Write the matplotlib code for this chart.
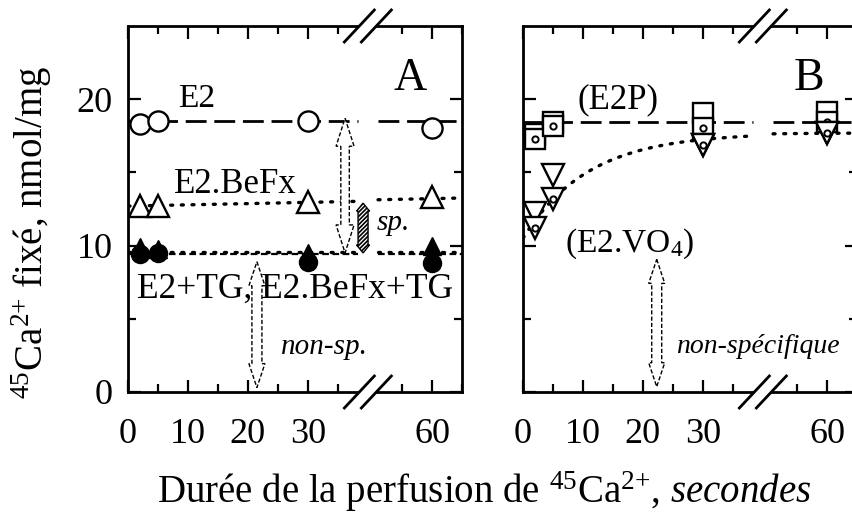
import numpy as np
import matplotlib
matplotlib.use('Agg')
import matplotlib.pyplot as plt
from matplotlib.patches import Polygon
from matplotlib.lines import Line2D

plt.rcParams['font.family'] = ['Liberation Serif', 'DejaVu Serif']
plt.rcParams['mathtext.fontset'] = 'custom'
plt.rcParams['mathtext.rm'] = 'Liberation Serif'
plt.rcParams['mathtext.it'] = 'Liberation Serif:italic'
plt.rcParams['hatch.linewidth'] = 1.2

# ---------------- data ----------------
time_s = [2, 5, 30, 60]
xtick_major = [0, 10, 20, 30, 60]
xtick_minor = [5, 15, 25, 35, 55, 65]
ytick_major = [0, 10, 20]
ytick_minor = [5, 15]

# panel A
a_e2 = [18.3, 18.5, 18.5, 18.0]          # open circles
a_befx = [12.7, 12.7, 13.0, 13.3]        # open triangles
a_e2_tg = [9.4, 9.5, 8.9, 8.8]           # filled circles
a_befx_tg = [9.9, 9.8, 9.5, 10.0]        # filled triangles
a_e2_level = 18.5
a_befx_line = [12.7, 13.25]              # at x = 0 and x = 65
a_tg_dash_level = 9.4
a_tg_dot_level = 9.55

# panel B
b_e2p_open = [17.6, 18.45, 19.05, 19.1]
b_e2p_dot = [17.3, 18.15, 18.05, 18.45]
b_vo4_open = [12.2, 14.8, 16.9, 17.7]
b_vo4_dot = [11.2, 13.2, 16.9, 17.7]
b_e2p_level = 18.45
b_fit_plateau = 17.7
b_fit_initial = 10.5
b_fit_rate = 0.092

# ---------------- broken x scale ----------------
BRK_LO, BRK_HI = 40.0, 49.3
GAP = BRK_HI - BRK_LO


def fwd(x):
    x = np.asarray(x, dtype=float)
    return np.where(x <= BRK_LO, x, np.where(x >= BRK_HI, x - GAP, BRK_LO))


def inv(y):
    y = np.asarray(y, dtype=float)
    return np.where(y <= BRK_LO, y, y + GAP)


SEG1 = (0.0, 38.4)
SEG2 = (51.0, 65.0)

fig = plt.figure(figsize=(8.52, 5.13), dpi=100)
W, H = 852.0, 513.0
bot = (H - 392) / H
hgt = 366 / H
axA = fig.add_axes([128 / W, bot, 334 / W, hgt])
axB = fig.add_axes([523 / W, bot, 334 / W, hgt])

TICK_FS = 26
for ax in (axA, axB):
    ax.set_xscale('function', functions=(fwd, inv))
    ax.set_xlim(0, 65)
    ax.set_ylim(0, 25)
    ax.set_xticks(xtick_major)
    ax.set_xticklabels([str(v) for v in xtick_major])
    ax.set_xticks(xtick_minor, minor=True)
    ax.set_yticks(ytick_major)
    ax.set_yticks(ytick_minor, minor=True)
    ax.tick_params(which='both', direction='in', top=True, right=True,
                   width=1.6, labelsize=TICK_FS)
    ax.tick_params(which='major', length=9)
    ax.tick_params(which='minor', length=6)
    ax.tick_params(axis='x', which='major', pad=18.5)
    ax.tick_params(axis='y', which='major', pad=11)
    for sp in ax.spines.values():
        sp.set_linewidth(2)
axB.tick_params(labelleft=False)


def seg_x(n=2):
    return [np.linspace(SEG1[0], SEG1[1], n), np.linspace(SEG2[0], SEG2[1], n)]


def hline(ax, level, **kw):
    for xs in seg_x():
        ax.plot(xs, [level] * len(xs), **kw)


def sloped(ax, vals, **kw):
    for xs in seg_x():
        ax.plot(xs, np.interp(xs, [0, 65], vals), **kw)


DASH = dict(color='black', lw=2, dashes=(7.5, 2.8), zorder=2)
DOT = dict(color='black', lw=2.4, dashes=(0.6, 2.6), dash_capstyle='round', zorder=2)
SHORTDASH = dict(color='black', lw=1.6, dashes=(3, 1.6), zorder=2)

# ---------- panel A ----------
hline(axA, a_e2_level, **DASH)
sloped(axA, a_befx_line, **DOT)
hline(axA, a_tg_dash_level, **SHORTDASH)
hline(axA, a_tg_dot_level, **DOT)

axA.plot(time_s, a_e2, 'o', ms=14.5, mfc='white', mec='black', mew=1.7, zorder=4)
axA.plot(time_s, a_befx, '^', ms=16, mfc='white', mec='black', mew=1.7, zorder=4)
axA.plot(time_s, a_befx_tg, '^', ms=13, color='black', zorder=4)
axA.plot(time_s, a_e2_tg, 'o', ms=13, color='black', zorder=4)

# ---------- panel B ----------
hline(axB, b_e2p_level, **DASH)
for xs in [np.linspace(SEG1[0], SEG1[1], 200), np.linspace(SEG2[0], SEG2[1], 50)]:
    axB.plot(xs, b_fit_plateau - (b_fit_plateau - b_fit_initial) * np.exp(-b_fit_rate * xs), **DOT)

axB.plot(time_s, b_e2p_open, 's', ms=14, mfc='white', mec='black', mew=1.7, zorder=4)
axB.plot(time_s, b_e2p_dot, 's', ms=14, mfc='white', mec='black', mew=1.7, zorder=5)
axB.plot(time_s, b_e2p_dot, 'o', ms=4.5, mfc='none', mec='black', mew=1.4, zorder=5)
axB.plot(time_s, b_vo4_open, 'v', ms=16, mfc='white', mec='black', mew=1.7, zorder=6)
axB.plot(time_s, b_vo4_dot, 'v', ms=16, mfc='white', mec='black', mew=1.7, zorder=7)
axB.plot(time_s, b_vo4_dot, 'o', ms=4.5, mfc='none', mec='black', mew=1.4, zorder=7)


# ---------- helpers: arrows & break marks ----------
def double_arrow(ax, x, y0, y1, shaft, headw, headl, **kw):
    T = ax.transData
    xd, yb = T.transform((x, y0))
    _, yt = T.transform((x, y1))
    s, h = shaft / 2, headw / 2
    pts = [(xd, yt), (xd + h, yt - headl), (xd + s, yt - headl), (xd + s, yb + headl),
           (xd + h, yb + headl), (xd, yb), (xd - h, yb + headl), (xd - s, yb + headl),
           (xd - s, yt - headl), (xd - h, yt - headl)]
    ax.add_patch(Polygon(T.inverted().transform(pts), closed=True, **kw))


ARW = dict(facecolor='white', edgecolor='black', lw=1.0, linestyle=(0, (3, 1.5)), zorder=3)
double_arrow(axA, 36.2, 9.5, 18.7, 8.5, 18, 28, **ARW)
double_arrow(axA, 21.5, 0.3, 8.9, 10, 16, 24, **ARW)
double_arrow(axB, 22.3, 0.36, 9.06, 10, 16, 24, **ARW)
double_arrow(axA, 39.2, 9.5, 12.9, 10, 13, 8, facecolor='white', edgecolor='black',
             lw=1.0, hatch='////////', zorder=3)


def break_marks(ax):
    T = ax.transData
    inv_t = T.inverted()
    xb = T.transform((BRK_LO, 0))[0]
    for yax in (0, 1):
        yd = ax.transAxes.transform((0, yax))[1]
        k = 15 / 16
        gap = [(xb - 8.5 - 4 * k, yd - 4), (xb + 8.5 - 4 * k, yd - 4),
               (xb + 8.5 + 4 * k, yd + 4), (xb - 8.5 + 4 * k, yd + 4)]
        ax.add_patch(Polygon(inv_t.transform(gap), closed=True, facecolor='white',
                             edgecolor='none', clip_on=False, zorder=8))
        for off in (-8.5, 8.5):
            p = inv_t.transform([(xb + off - 15, yd - 16), (xb + off + 15, yd + 16)])
            ax.add_line(Line2D(p[:, 0], p[:, 1], color='black', lw=2,
                               clip_on=False, zorder=9))


break_marks(axA)
break_marks(axB)


# ---------- texts ----------
def ptext(ax, px, py, s, **kw):
    """position given in pixel of the reference image (x from left, baseline y from top)"""
    x0, y0 = ax.get_position().x0 * W, H - ax.get_position().y0 * H
    xa = (px - x0) / (ax.get_position().width * W)
    ya = (y0 - py) / (ax.get_position().height * H)
    ax.text(xa, ya, s, transform=ax.transAxes, ha='center', va='baseline', **kw)


ptext(axA, 410, 90, 'A', fontsize=33)
ptext(axA, 197, 107, 'E2', fontsize=24)
ptext(axA, 235, 193, 'E2.BeFx', fontsize=25)
ptext(axA, 295, 298, 'E2+TG, E2.BeFx+TG', fontsize=25.5)
ptext(axA, 393, 230, 'sp.', fontsize=21, style='italic')
ptext(axA, 324, 354, 'non-sp.', fontsize=21, style='italic')

ptext(axB, 809, 90, 'B', fontsize=33)
ptext(axB, 618, 108, '(E2P)', fontsize=25)
ptext(axB, 630, 252, '(E2.VO$_4$)', fontsize=24)
ptext(axB, 758, 353, 'non-spécifique', fontsize=20, style='italic')

fig.text(32 / W, 1 - 232 / H, '$^{45}$Ca$^{2{+}}$ fixé, nmol/mg', rotation=90,
         ha='center', va='center', fontsize=28)
fig.text(484 / W, 1 - 492 / H, 'Durée de la perfusion de $^{45}$Ca$^{2{+}}$, $\\mathit{secondes}$',
         ha='center', va='center', fontsize=28)

fig.savefig('out.png', dpi=100)
